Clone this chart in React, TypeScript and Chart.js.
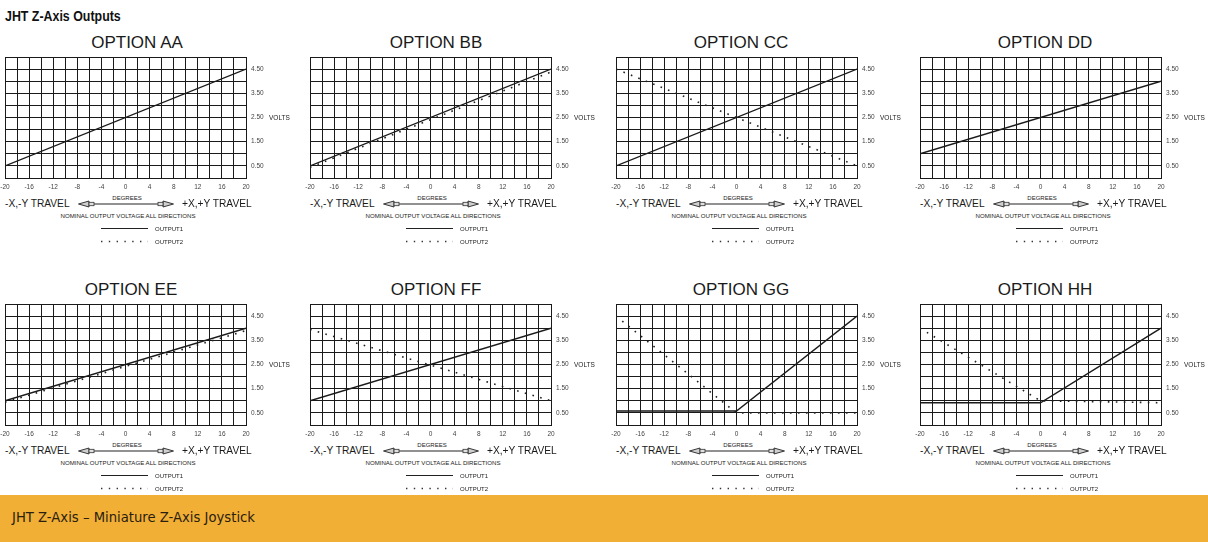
import React, { useEffect, useRef } from "react";
import { Chart, registerables } from "chart.js";

Chart.register(...registerables);

// ---------- data ----------
const PAGE_TITLE = "JHT Z-Axis Outputs";
const FOOTER_TEXT = "JHT Z-Axis – Miniature Z-Axis Joystick";
const OPTION_NAMES = ["OPTION AA", "OPTION BB", "OPTION CC", "OPTION DD", "OPTION EE", "OPTION FF", "OPTION GG", "OPTION HH"];

const DEG_MIN = -20;
const DEG_MAX = 20;
const VOLT_MIN = 0;
const VOLT_MAX = 5;

const DEG_ENDS = [-20, 20];
const DEG_SPLIT = [-20, 0, 20];

const AA_OUT1 = [0.5, 4.5];
const BB_OUT1 = [0.5, 4.5];
const BB_OUT2 = [0.44, 4.38];
const CC_OUT1 = [0.5, 4.5];
const CC_OUT2 = [4.5, 0.5];
const DD_OUT1 = [1.0, 4.0];
const EE_OUT1 = [1.0, 4.0];
const EE_OUT2 = [0.94, 3.9];
const FF_OUT1 = [1.0, 4.0];
const FF_OUT2 = [3.95, 1.0];
const GG_OUT1 = [0.58, 0.58, 4.5];
const GG_OUT2 = [4.5, 0.5, 0.5];
const HH_OUT1 = [0.92, 0.92, 4.0];
const HH_OUT2 = [4.0, 1.0, 0.92];

const LEFT_TRAVEL = "-X,-Y TRAVEL";
const RIGHT_TRAVEL = "+X,+Y TRAVEL";
const X_AXIS_TITLE = "DEGREES";
const Y_AXIS_TITLE = "VOLTS";
const NOTE_TEXT = "NOMINAL OUTPUT VOLTAGE ALL DIRECTIONS";
const LEGEND_1 = "OUTPUT1";
const LEGEND_2 = "OUTPUT2";

type PanelDef = {
  name: string;
  x1: number[];
  y1: number[];
  x2: number[] | null;
  y2: number[] | null;
};

const PANELS: PanelDef[] = [
  { name: OPTION_NAMES[0], x1: DEG_ENDS, y1: AA_OUT1, x2: null, y2: null },
  { name: OPTION_NAMES[1], x1: DEG_ENDS, y1: BB_OUT1, x2: DEG_ENDS, y2: BB_OUT2 },
  { name: OPTION_NAMES[2], x1: DEG_ENDS, y1: CC_OUT1, x2: DEG_ENDS, y2: CC_OUT2 },
  { name: OPTION_NAMES[3], x1: DEG_ENDS, y1: DD_OUT1, x2: null, y2: null },
  { name: OPTION_NAMES[4], x1: DEG_ENDS, y1: EE_OUT1, x2: DEG_ENDS, y2: EE_OUT2 },
  { name: OPTION_NAMES[5], x1: DEG_ENDS, y1: FF_OUT1, x2: DEG_ENDS, y2: FF_OUT2 },
  { name: OPTION_NAMES[6], x1: DEG_SPLIT, y1: GG_OUT1, x2: DEG_SPLIT, y2: GG_OUT2 },
  { name: OPTION_NAMES[7], x1: DEG_SPLIT, y1: HH_OUT1, x2: DEG_SPLIT, y2: HH_OUT2 },
];

// ---------- layout ----------
const COL_LEFTS = [5, 310, 616, 920];
const ROW_TOPS = [57, 304];
const TITLE_OFFSETS = [132, 126, 125, 125, 126, 126, 125, 125];
const PLOT_W = 241;
const PLOT_H = 121;
const PAD_L = 10;
const PAD_T = 6;
const Y_AXIS_W = 30;
const X_AXIS_H = 14;
const FONT = '"Liberation Sans", Arial, Helvetica, sans-serif';
const INK = "#1a1a1a";

function PanelChart({ def, left, top }: { def: PanelDef; left: number; top: number }) {
  const ref = useRef<HTMLCanvasElement>(null);
  const W = PAD_L + PLOT_W + Y_AXIS_W;
  const H = PAD_T + PLOT_H + X_AXIS_H;

  useEffect(() => {
    if (!ref.current) return;
    const datasets: any[] = [
      {
        label: LEGEND_1,
        data: def.x1.map((x, i) => ({ x, y: def.y1[i] })),
        borderColor: INK,
        borderWidth: 1.4,
        pointRadius: 0,
        tension: 0,
      },
    ];
    if (def.x2 && def.y2) {
      const ys = def.y2;
      datasets.push({
        label: LEGEND_2,
        data: def.x2.map((x, i) => ({ x, y: ys[i] })),
        borderColor: "#222",
        borderWidth: 1.6,
        borderDash: [1.6, 6.4],
        pointRadius: 0,
        tension: 0,
      });
    }
    const tickFont = { family: FONT, size: 6.5 };
    const chart = new Chart(ref.current, {
      type: "line",
      data: { datasets },
      options: {
        responsive: false,
        animation: false,
        devicePixelRatio: 1,
        layout: { padding: { left: PAD_L, top: PAD_T, right: 0, bottom: 0 } },
        plugins: { legend: { display: false }, tooltip: { enabled: false } },
        scales: {
          x: {
            type: "linear",
            min: DEG_MIN,
            max: DEG_MAX,
            ticks: {
              stepSize: 2,
              autoSkip: false,
              maxRotation: 0,
              minRotation: 0,
              padding: 5,
              color: "#444",
              font: tickFont,
              callback: (v: any) => (Number(v) % 4 === 0 ? String(v) : ""),
            },
            grid: { color: INK, lineWidth: 1, drawTicks: false },
            border: { color: INK, width: 1 },
            afterFit: (s: any) => {
              s.height = X_AXIS_H;
              s.paddingLeft = 0;
              s.paddingRight = 0;
              s.paddingTop = 0;
              s.paddingBottom = 0;
            },
          },
          y: {
            type: "linear",
            position: "right",
            min: VOLT_MIN,
            max: VOLT_MAX,
            ticks: {
              stepSize: 0.5,
              autoSkip: false,
              padding: 5,
              color: "#444",
              font: tickFont,
              callback: (v: any) => (Math.round(Number(v) * 2) % 2 === 1 ? Number(v).toFixed(2) : ""),
            },
            grid: { color: INK, lineWidth: 1, drawTicks: false },
            border: { color: INK, width: 1 },
            afterFit: (s: any) => {
              s.width = Y_AXIS_W;
              s.paddingLeft = 0;
              s.paddingRight = 0;
              s.paddingTop = 0;
              s.paddingBottom = 0;
            },
          },
        },
      } as any,
    });
    return () => chart.destroy();
  }, [def]);

  return (
    <canvas
      ref={ref}
      width={W}
      height={H}
      style={{ position: "absolute", left: left - PAD_L, top: top - PAD_T, width: W, height: H }}
    />
  );
}

function Txt({
  x,
  y,
  size,
  children,
  center = false,
  weight = 400,
  family = FONT,
  color = INK,
  scaleX = 1,
}: {
  x: number;
  y: number;
  size: number;
  children: React.ReactNode;
  center?: boolean;
  weight?: number;
  family?: string;
  color?: string;
  scaleX?: number;
}) {
  const base = center ? "translate(-50%, -50%)" : "translateY(-50%)";
  return (
    <div
      style={{
        position: "absolute",
        left: x,
        top: y,
        transform: scaleX !== 1 ? `${base} scaleX(${scaleX})` : base,
        transformOrigin: "0 50%",
        fontSize: size,
        lineHeight: 1,
        fontFamily: family,
        fontWeight: weight,
        color,
        whiteSpace: "nowrap",
      }}
    >
      {children}
    </div>
  );
}

function Panel({ def, L, T, titleOffset }: { def: PanelDef; L: number; T: number; titleOffset: number }) {
  const B = T + PLOT_H;
  return (
    <>
      <Txt x={L + titleOffset} y={T - 15} size={17} center>
        {def.name}
      </Txt>
      <PanelChart def={def} left={L} top={T} />
      <Txt x={L + 264} y={T + PLOT_H / 2} size={6.5}>
        {Y_AXIS_TITLE}
      </Txt>
      <Txt x={L + 122} y={B + 20} size={6} center>
        {X_AXIS_TITLE}
      </Txt>
      <Txt x={L} y={B + 26} size={10.2}>
        {LEFT_TRAVEL}
      </Txt>
      <svg
        style={{ position: "absolute", left: L + 72, top: B + 20 }}
        width={98}
        height={12}
      >
        <line x1={14} y1={6} x2={84} y2={6} stroke="#222" strokeWidth={1} />
        <polygon points="1.5,6 12,3 12,9" fill="#cfcfcf" stroke="#222" strokeWidth={0.9} />
        <rect x={12} y={4.3} width={5} height={3.4} fill="#e0e0e0" stroke="#333" strokeWidth={0.8} />
        <polygon points="96.5,6 86,3 86,9" fill="#cfcfcf" stroke="#222" strokeWidth={0.9} />
        <rect x={81} y={4.3} width={5} height={3.4} fill="#e0e0e0" stroke="#333" strokeWidth={0.8} />
      </svg>
      <Txt x={L + 177} y={B + 26} size={10.2}>
        {RIGHT_TRAVEL}
      </Txt>
      <Txt x={L + 123} y={B + 38} size={6.1} center>
        {NOTE_TEXT}
      </Txt>
      <svg style={{ position: "absolute", left: L + 95, top: B + 45 }} width={50} height={24}>
        <line x1={1} y1={5.5} x2={48} y2={5.5} stroke="#222" strokeWidth={1.2} />
        <line x1={1} y1={18.5} x2={48} y2={18.5} stroke="#333" strokeWidth={1.4} strokeDasharray="1.4 6.4" />
      </svg>
      <Txt x={L + 150} y={B + 51} size={6}>
        {LEGEND_1}
      </Txt>
      <Txt x={L + 150} y={B + 64} size={6}>
        {LEGEND_2}
      </Txt>
    </>
  );
}

export default function App() {
  return (
    <div
      style={{
        position: "absolute",
        left: 0,
        top: 0,
        width: 1208,
        height: 542,
        background: "#fff",
        overflow: "hidden",
      }}
    >
      <Txt x={5} y={16} size={15.5} weight={700} color="#111" scaleX={0.8}>
        {PAGE_TITLE}
      </Txt>
      {PANELS.map((def, i) => (
        <Panel
          key={def.name}
          def={def}
          L={COL_LEFTS[i % 4]}
          T={ROW_TOPS[Math.floor(i / 4)]}
          titleOffset={TITLE_OFFSETS[i]}
        />
      ))}
      <div
        style={{
          position: "absolute",
          left: 0,
          top: 495,
          width: 1208,
          height: 47,
          background: "#F1AF36",
        }}
      />
      <Txt x={12} y={518} size={13.2} family='"DejaVu Sans", Verdana, sans-serif' color="#2a2010">
        {FOOTER_TEXT}
      </Txt>
    </div>
  );
}
